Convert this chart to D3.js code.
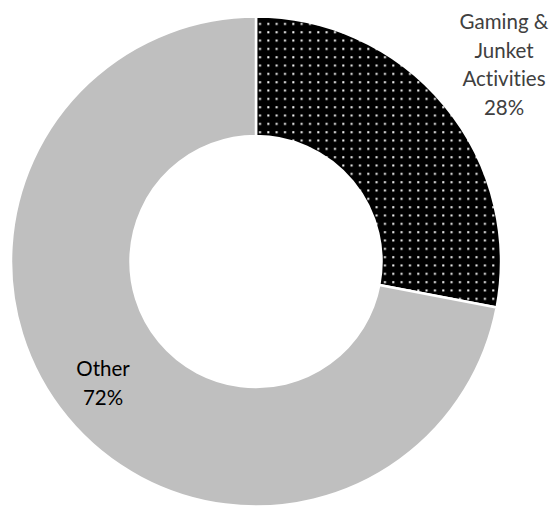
<!DOCTYPE html>
<html>
<head>
<meta charset="utf-8">
<script src="https://cdn.jsdelivr.net/npm/d3@7"></script>
<style>
  html, body { margin: 0; padding: 0; background: #fff; }
  svg { display: block; }
  text { font-variant-ligatures: none; font-feature-settings: "liga" 0, "clig" 0; }
</style>
</head>
<body>
<svg id="chart" width="560" height="512"></svg>
<script>
// Revenue share by segment
const categories = ["Gaming & Junket Activities", "Other"];
const values = [28, 72];
const labelLines = [["Gaming &", "Junket", "Activities", "28%"], ["Other", "72%"]];

const width = 560, height = 512;
const cx = 256, cy = 261.5;
const outerR = 245, innerR = 125.5;

const svg = d3.select("#chart");

// Black fill with a grid of small white dots
const defs = svg.append("defs");
const pat = defs.append("pattern")
  .attr("id", "dots")
  .attr("patternUnits", "userSpaceOnUse")
  .attr("width", 8.33).attr("height", 8.33);
pat.append("rect").attr("width", 8.33).attr("height", 8.33).attr("fill", "#000");
pat.append("rect").attr("x", 3).attr("y", 3).attr("width", 2).attr("height", 2).attr("fill", "#fff");

const fills = ["url(#dots)", "#bfbfbf"];

const pie = d3.pie().sort(null).value(d => d)(values);
const arc = d3.arc().innerRadius(innerR).outerRadius(outerR);

const g = svg.append("g").attr("transform", `translate(${cx},${cy})`);
g.selectAll("path")
  .data(pie)
  .join("path")
  .attr("d", arc)
  .attr("fill", (d, i) => fills[i])
  .attr("stroke", "#fff")
  .attr("stroke-width", 2.5)
  .attr("stroke-linejoin", "round");

// Data labels
const labelPos = [
  { x: 504, y: 21, color: "#404040" },
  { x: 103, y: 368, color: "#000" }
];
const lineH = 28.6;
labelLines.forEach((lines, i) => {
  const t = svg.append("text")
    .attr("text-anchor", "middle")
    .attr("font-family", "Lato, 'Open Sans', sans-serif")
    .attr("font-size", 20.5)
    .attr("fill", labelPos[i].color);
  lines.forEach((ln, j) => {
    t.append("tspan")
      .attr("x", labelPos[i].x)
      .attr("y", labelPos[i].y + j * lineH)
      .attr("dominant-baseline", "central")
      .text(ln);
  });
});
</script>
</body>
</html>
